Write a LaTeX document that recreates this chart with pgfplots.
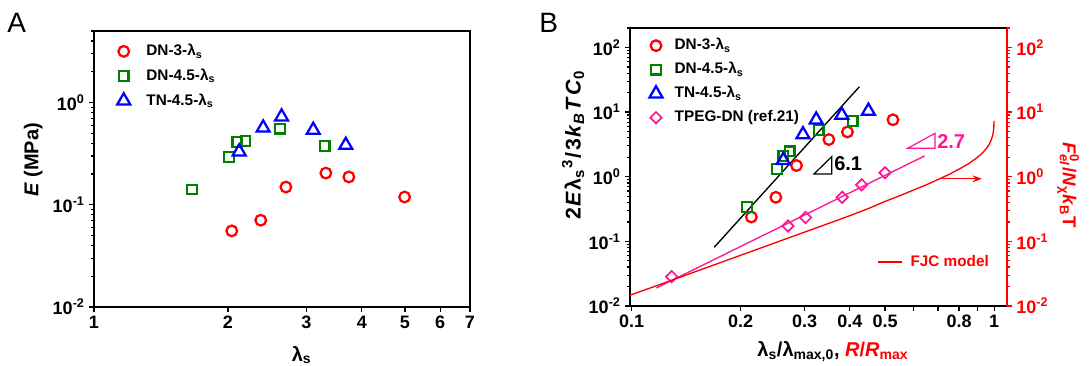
\documentclass[border=0pt]{standalone}
\usepackage{pgfplots}
\pgfplotsset{compat=1.18}
\usepackage{fontspec}
\setmainfont{Liberation Sans}
\usetikzlibrary{arrows.meta}

\definecolor{cred}{RGB}{255,0,0}
\definecolor{cgreen}{RGB}{0,128,0}
\definecolor{cblue}{RGB}{0,0,255}
\definecolor{cpink}{RGB}{255,20,147}

\newcommand{\tickfont}{\bfseries\fontsize{13.5}{14}\selectfont}
\newcommand{\labfont}{\bfseries\fontsize{15}{16}\selectfont}
\newcommand{\legfont}{\bfseries\fontsize{11.5}{12}\selectfont}

\pgfplotsset{
  panelstyle/.style={
    scale only axis,
    tick align=outside, tick pos=left,
    axis line style={line width=1.3pt},
    major tick length=3.5pt, minor tick length=2pt,
    every tick/.style={line width=0.9pt},
    tick label style={font=\tickfont},
    legend style={draw=none, fill=none, font=\legfont, inner sep=0pt,
      nodes={inner sep=0pt, text height=9pt, text depth=2.5pt},
      /tikz/every odd column/.append style={column sep=6pt}},
    legend cell align=left,
    legend image code/.code={\path[draw=none] (0pt,0pt) -- (16pt,0pt); \draw[##1] plot coordinates {(8pt,0pt)};},
  },
  mcirc/.style={only marks, mark=o, mark size=4pt, color=cred, mark options={line width=1.7pt}},
  msq/.style={only marks, mark=square, mark size=3.6pt, color=cgreen, mark options={line width=1.7pt}},
  mtri/.style={only marks, mark=triangle, mark size=5.6pt, color=cblue, mark options={line width=1.7pt}},
  mdia/.style={only marks, mark=square, mark size=3pt, color=cpink, mark options={line width=1.3pt, rotate=45}},
}

\begin{document}
\begin{tikzpicture}[x=0.75pt,y=0.75pt]
\path[use as bounding box] (0,0) rectangle (1089,365);

% ---------------- Panel A ----------------
\begin{axis}[panelstyle, xmode=log, ymode=log,
  at={(70.5pt,43.5pt)}, anchor=south west,
  width=282pt, height=207pt,
  xmin=1, xmax=7, ymin=0.01, ymax=5,
  xtick={1,2,3,4,5,6,7}, xticklabels={1,2,3,4,5,6,7}, minor xtick={},
  ytick={0.01,0.1,1},
  yticklabels={10\textsuperscript{-2},10\textsuperscript{-1},10\textsuperscript{0}},
  minor ytick={0.02,0.03,0.04,0.05,0.06,0.07,0.08,0.09,0.2,0.3,0.4,0.5,0.6,0.7,0.8,0.9,2,3,4,5},
  every axis x label/.style={at={(axis description cs:0.552,-0.174)}, anchor=center},
  every axis y label/.style={at={(axis description cs:-0.162,0.533)}, rotate=90, anchor=center},
  xlabel={\labfont λ\textsubscript{s}},
  ylabel={\labfont\textit{E} (MPa)},
  legend style={at={(axis description cs:0.05,0.955)}, anchor=north west, row sep=7pt,
    /tikz/every odd column/.append style={column sep=9pt}},
]
\addplot[mcirc] coordinates {(2.04,0.0555) (2.37,0.0706) (2.70,0.149) (3.32,0.204) (3.74,0.187) (4.99,0.119)};
\addlegendentry{DN-3-λ\textsubscript{s}}
\addplot[msq] coordinates {(1.66,0.141) (2.01,0.293) (2.10,0.41) (2.19,0.419) (2.62,0.554) (3.30,0.375)};
\addlegendentry{DN-4.5-λ\textsubscript{s}}
\addplot[mtri] coordinates {(2.12,0.33) (2.40,0.565) (2.64,0.725) (3.11,0.537) (3.68,0.383)};
\addlegendentry{TN-4.5-λ\textsubscript{s}}
\end{axis}

% ---------------- Panel B (left scale) ----------------
\begin{axis}[panelstyle, xmode=log, ymode=log,
  at={(472.5pt,44.25pt)}, anchor=south west,
  width=282.75pt, height=208.5pt,
  xmin=0.099, xmax=1.085, ymin=0.01, ymax=200,
  xtick={0.1,0.2,0.3,0.4,0.5,0.6,0.7,0.8,0.9,1},
  xticklabels={0.1,0.2,0.3,0.4,0.5,,,0.8,,1},
  minor xtick={},
  ytick={0.01,0.1,1,10,100},
  yticklabels={10\textsuperscript{-2},10\textsuperscript{-1},10\textsuperscript{0},10\textsuperscript{1},10\textsuperscript{2}},
  minor ytick={0.02,0.03,0.04,0.05,0.06,0.07,0.08,0.09,0.2,0.3,0.4,0.5,0.6,0.7,0.8,0.9,2,3,4,5,6,7,8,9,20,30,40,50,60,70,80,90,200},
  every axis x label/.style={at={(axis description cs:0.538,-0.165)}, anchor=center},
  every axis y label/.style={at={(axis description cs:-0.151,0.579)}, rotate=90, anchor=center},
  xlabel={\labfont λ\textsubscript{s}/λ\textsubscript{max,0}, \textcolor{cred}{\textit{R}/\textit{R}\textsubscript{max}}},
  ylabel={\bfseries\fontsize{16}{17}\selectfont 2\kern1pt\textit{E}\kern1pt λ\kern0.5pt\textsubscript{s}\kern0.5pt\textsuperscript{3}\kern1pt/\kern1pt3\kern1pt\textit{k}\kern0.5pt\textsubscript{\textit{B}}\kern1pt\textit{T}\kern1pt\textit{C}\kern0.5pt\textsubscript{0}},
  legend style={at={(axis description cs:0.04,0.965)}, anchor=north west, row sep=6.5pt},
]
\addplot[mcirc] coordinates {(0.214,0.238) (0.250,0.48) (0.285,1.49) (0.350,3.76) (0.394,4.93) (0.526,7.6)};
\addlegendentry{DN-3-λ\textsubscript{s}}
\addplot[msq] coordinates {(0.208,0.34) (0.252,1.31) (0.262,2.10) (0.273,2.48) (0.328,5.27) (0.407,7.3)};
\addlegendentry{DN-4.5-λ\textsubscript{s}}
\addplot[mtri] coordinates {(0.262,1.8) (0.297,4.5) (0.323,7.6) (0.380,9.0) (0.450,10.4)};
\addlegendentry{TN-4.5-λ\textsubscript{s}}
\addplot[mdia] coordinates {(0.129,0.0285) (0.270,0.173) (0.302,0.234) (0.381,0.48) (0.431,0.75) (0.50,1.15)};
\addlegendentry{TPEG-DN (ref.21)}
\addplot[black, line width=1pt, forget plot] coordinates {(0.169,0.081) (0.425,24.7)};
\addplot[cpink, line width=1pt, forget plot] coordinates {(0.117,0.019) (0.643,2.1)};
\end{axis}

% ---------------- Panel B (right scale) ----------------
\begin{axis}[panelstyle, xmode=log, ymode=log,
  at={(472.5pt,44.25pt)}, anchor=south west,
  width=282.75pt, height=208.5pt,
  xmin=0.099, xmax=1.085, ymin=0.01, ymax=200,
  axis x line=none, axis y line*=right,
  ytick pos=right, yticklabel pos=right,
  y axis line style={cred, line width=1.3pt},
  ytick style={cred}, yticklabel style={cred},
  ytick={0.01,0.1,1,10,100},
  yticklabels={10\textsuperscript{-2},10\textsuperscript{-1},10\textsuperscript{0},10\textsuperscript{1},10\textsuperscript{2}},
  minor ytick={0.02,0.03,0.04,0.05,0.06,0.07,0.08,0.09,0.2,0.3,0.4,0.5,0.6,0.7,0.8,0.9,2,3,4,5,6,7,8,9,20,30,40,50,60,70,80,90,200},
  every axis y label/.style={at={(axis description cs:1.162,0.435)}, rotate=-90, anchor=center},
  ylabel={\bfseries\fontsize{14}{15}\selectfont\color{cred}\textit{F}\rlap{\textsuperscript{0}}\textsubscript{\textit{el}}\kern1pt/\textit{N}\textsubscript{χ}\textit{k}\textsubscript{B}T},
  legend style={at={(axis description cs:0.655,0.158)}, anchor=west, text=cred},
  legend image code/.code={\draw[#1] (0pt,0pt) -- (18pt,0pt);},
]
\addplot[cred, line width=1pt] coordinates {
 (0.099,0.0147) (0.12,0.0216) (0.15,0.034) (0.2,0.061) (0.25,0.096) (0.3,0.139) (0.35,0.190)
 (0.4,0.250) (0.45,0.322) (0.5,0.415) (0.55,0.51) (0.6,0.625) (0.65,0.75) (0.7,0.905)
 (0.75,1.08) (0.8,1.31) (0.85,1.59) (0.9,2.0) (0.93,2.36) (0.95,2.7) (0.97,3.2)
 (0.98,3.62) (0.99,4.3) (0.995,5.0) (0.998,5.9) (0.9993,7.3)};
\addlegendentry{FJC model}
\end{axis}

% ---------------- annotations ----------------
\node[anchor=base west, inner sep=0, font=\fontsize{21}{21}\selectfont] at (7,332) {A};
\node[anchor=base west, inner sep=0, font=\fontsize{21}{21}\selectfont] at (539,332) {B};

\draw[black, line width=0.9pt] (814,191) -- (831.7,191) -- (831.7,208.3) -- cycle;
\node[anchor=west, inner sep=0, font=\bfseries\fontsize{15}{16}\selectfont] at (834,201.7) {6.1};
\draw[cpink, line width=0.9pt] (907.7,216.7) -- (935,216.7) -- (935,231.7) -- cycle;
\node[anchor=west, inner sep=0, text=cpink, font=\bfseries\fontsize{15}{16}\selectfont] at (937,223.3) {2.7};
\draw[cred, line width=1pt, -{Stealth[length=7pt,width=5pt]}] (941.7,186.2) -- (982,186.2);
\end{tikzpicture}
\end{document}
